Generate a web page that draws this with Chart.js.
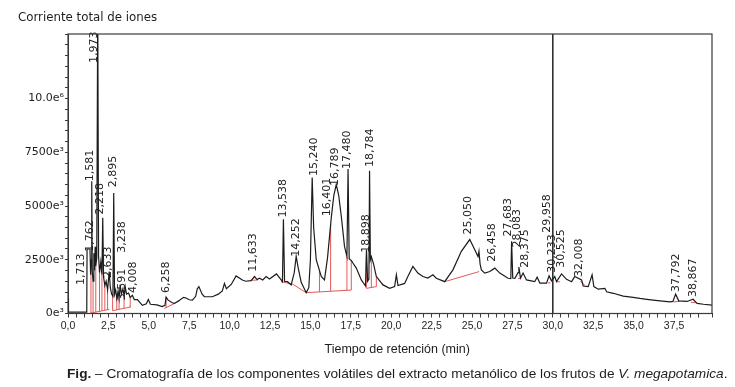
<!DOCTYPE html>
<html>
<head>
<meta charset="utf-8">
<script src="https://cdn.jsdelivr.net/npm/chart.js@4.4.0/dist/chart.umd.min.js"></script>
<style>
  html, body { margin: 0; padding: 0; background: #fff; }
  #wrap { position: relative; width: 735px; height: 387px; overflow: hidden; }
  #chart { position: absolute; left: 0; top: 0; }
  .txt { position: absolute; white-space: nowrap; color: #1e1e1e; }
  #ytitle { left: 18px; top: 10px; font: 11.8px "DejaVu Sans", Verdana, sans-serif; }
  #xtitle { left: 398px; top: 342px; font: 12.5px "Liberation Sans", Arial, sans-serif; transform-origin: 0 0; }
  #caption { left: 67px; top: 366px; font: 13px "Liberation Sans", Arial, sans-serif; transform-origin: 0 0; }
</style>
</head>
<body>
<div id="wrap">
  <canvas id="chart" width="735" height="387"></canvas>
  <div class="txt" id="ytitle">Corriente total de iones</div>
  <div class="txt" id="xtitle">Tiempo de retención (min)</div>
  <div class="txt" id="caption"><b>Fig.</b> – Cromatografía de los componentes volátiles del extracto metanólico de los frutos de <i>V. megapotamica</i>.</div>
</div>
<script>
/* ── data (time in min, intensity in e3 counts) ──────────── */

const traceTime = [
  0, 0.03, 1.16, 1.18, 1.36, 1.40, 1.44, 1.47, 1.50, 1.55, 1.60, 1.64, 1.68, 1.72, 1.78, 1.84, 1.89, 1.95,
  2.03, 2.10, 2.15, 2.20, 2.28, 2.36, 2.45, 2.55, 2.62, 2.70, 2.78, 2.83, 2.88, 2.95, 3.02, 3.10, 3.16,
  3.23, 3.30, 3.40, 3.47, 3.54, 3.62, 3.75, 3.85, 3.98, 4.10, 4.30, 4.60, 4.85, 4.97, 5.10, 5.50, 5.83,
  6.00, 6.07, 6.20, 6.45, 6.58, 6.90, 7.15, 7.30, 7.50, 7.70, 7.90, 8.00, 8.10, 8.30, 8.44, 8.93, 9.30,
  9.55, 9.68, 9.80, 10.10, 10.40, 10.79, 11.00, 11.33, 11.54, 11.70, 11.85, 12.05, 12.26, 12.47, 12.90,
  13.19, 13.27, 13.33, 13.40, 13.58, 13.81, 14.00, 14.12, 14.25, 14.43, 14.74, 14.90, 15.00, 15.11,
  15.20, 15.36, 15.67, 15.87, 16.06, 16.29, 16.45, 16.60, 16.75, 16.91, 17.11, 17.26, 17.33, 17.40,
  17.47, 17.55, 17.63, 17.84, 18.15, 18.41, 18.47, 18.54, 18.62, 18.66, 18.71, 18.77, 18.91, 19.08,
  19.49, 19.90, 20.21, 20.32, 20.42, 20.83, 21.03, 21.34, 21.65, 21.96, 22.27, 22.58, 22.79, 23.31,
  23.82, 24.34, 24.86, 25.17, 25.37, 25.43, 25.50, 25.58, 25.79, 26.10, 26.41, 26.72, 27.23, 27.40,
  27.45, 27.52, 27.65, 27.85, 27.90, 28.00, 28.16, 28.37, 28.88, 29.03, 29.20, 29.61, 29.77, 29.92,
  30.12, 30.23, 30.54, 30.85, 31.16, 31.36, 31.78, 31.88, 32.19, 32.43, 32.54, 32.81, 33.22, 33.33,
  33.74, 34.36, 34.97, 35.39, 35.81, 36.63, 37.25, 37.43, 37.60, 37.79, 38.31, 38.68, 38.93, 39.32, 39.85
];
const traceValue = [
  700, 60, 60, 3000, 3000, 1800, 2500, 6150, 2000, 1500, 2800, 2000, 3100, 2200, 2600, 14500, 2700, 1900,
  2400, 1800, 4450, 1700, 1300, 1500, 1100, 1950, 1200, 900, 800, 5600, 900, 1100, 700, 1050, 700,
  1350, 900, 1150, 800, 1250, 900, 950, 750, 850, 650, 650, 380, 450, 650, 430, 400, 320,
  380, 760, 620, 500, 470, 620, 750, 720, 640, 620, 800, 1150, 1250, 900, 780, 780, 900,
  1050, 1400, 1150, 1350, 1750, 1560, 1500, 1530, 1720, 1580, 1640, 1560, 1720, 1600, 1840,
  1560, 1480, 4380, 1500, 1480, 1330, 1900, 2660, 2100, 1450, 970, 1200, 2500, 6330,
  4000, 2500, 1720, 1560, 2600, 4450, 5500, 6000, 5500, 4530, 3120, 2650, 6720, 2550,
  2500, 2450, 2350, 2110, 1560, 1280, 2970, 1500, 1600, 6640, 2500, 2650, 2300, 1720,
  1330, 1170, 1250, 1800, 1300, 1400, 1720, 2190, 1880, 1720, 1650, 1800, 1640, 1480,
  2030, 2890, 3440, 2970, 2650, 2900, 2300, 2030, 1880, 1950, 2110, 1880, 1640, 1620,
  3360, 1650, 1640, 1900, 2160, 1650, 1880, 1560, 1480, 1690, 1410, 1410, 1750, 1520,
  1720, 1480, 1840, 1590, 1480, 1720, 1560, 1280, 1250, 1800, 1250, 1130, 1170, 1010,
  940, 810, 750, 700, 660, 590, 540, 560, 900, 590, 560, 660, 470, 430, 390
];

// integration baselines (red): polyline points [time, value] and drop-line times
const baselines = [
  { pts: [[1.42, 20], [2.55, 190]], drops: [1.42, 1.55, 1.72, 1.95, 2.10, 2.28, 2.45] },
  { pts: [[2.76, 130], [3.90, 310]], drops: [2.76, 3.02, 3.16, 3.47, 3.85] },
  { pts: [[5.96, 230], [6.89, 580]], drops: [6.07] },
  { pts: [[11.25, 1540], [11.75, 1560]], drops: [] },
  { pts: [[13.19, 1480], [13.91, 1360], [14.74, 970], [17.53, 1090]], drops: [15.56, 16.25, 17.26, 17.53] },
  { pts: [[18.46, 1170], [19.08, 1250]], drops: [18.46, 18.77, 19.08] },
  { pts: [[23.31, 1480], [25.44, 1950]], drops: [] },
  { pts: [[27.85, 1620], [28.05, 1640]], drops: [] },
  { pts: [[29.70, 1420], [29.85, 1430]], drops: [] },
  { pts: [[30.25, 1470], [30.45, 1480]], drops: [] },
  { pts: [[31.70, 1500], [32.00, 1300]], drops: [] },
  { pts: [[37.45, 540], [37.85, 560]], drops: [] },
  { pts: [[38.55, 520], [38.85, 500]], drops: [] },
];

// peak labels: text, x (min), y where the rotated text starts (e3)
const peakLabels  = ["1,713", "1,762", "1,581", "1,973", "2,218", "2,633", "2,895", "3,238", "3,591", "4,008",
                     "6,258", "11,633", "13,538", "14,252", "15,240", "16,401", "16,789", "17,480", "18,784", "18,898",
                     "25,050", "26,458", "27,683", "28,083", "28,375", "29,958", "30,233", "30,525", "32,008", "37,792", "38,867"];
const peakLabelX  = [0.82, 1.38, 1.38, 1.61, 2.00, 2.49, 2.80, 3.36, 3.36, 4.04,
                     6.05, 11.47, 13.33, 14.14, 15.22, 16.03, 16.55, 17.30, 18.69, 18.47,
                     24.73, 26.25, 27.24, 27.80, 28.30, 29.65, 29.97, 30.53, 31.64, 37.62, 38.70];
const peakLabelY  = [1330, 2870, 6150, 11650, 4600, 1650, 5870, 2830, 620, 950,
                     950, 1940, 4460, 2640, 6390, 4520, 5930, 6720, 6810, 2830,
                     3670, 2410, 3580, 3070, 2130, 3760, 1890, 2130, 1700, 1000, 770];

const cursorTime = 30.0;

const xTickValues = [0, 2.5, 5, 7.5, 10, 12.5, 15, 17.5, 20, 22.5, 25, 27.5, 30, 32.5, 35, 37.5];
const yTickValues = [0, 2500, 5000, 7500, 10000];
const yTickLabels = ["0e³", "2500e³", "5000e³", "7500e³", "10.0e⁶"];

/* ── helpers ─────────────────────────────────────────────── */

function interp(xs, ys, t) {
  for (let i = 1; i < xs.length; i++) {
    if (t <= xs[i]) {
      const f = (t - xs[i - 1]) / (xs[i] - xs[i - 1]);
      return ys[i - 1] + f * (ys[i] - ys[i - 1]);
    }
  }
  return ys[ys.length - 1];
}

const trace = traceTime.map((t, i) => ({ x: t, y: traceValue[i] }));

const redPts = [];
baselines.forEach(b => {
  b.pts.forEach(p => redPts.push({ x: p[0], y: p[1] }));
  redPts.push({ x: b.pts[b.pts.length - 1][0] + 0.001, y: null });
  const bx = b.pts.map(p => p[0]), by = b.pts.map(p => p[1]);
  b.drops.forEach(t => {
    redPts.push({ x: t, y: interp(bx, by, t) });
    redPts.push({ x: t, y: interp(traceTime, traceValue, t) });
    redPts.push({ x: t + 0.001, y: null });
  });
});

/* ── plugins ─────────────────────────────────────────────── */

const framePlugin = {
  id: "frame",
  afterDraw(chart) {
    const { ctx, chartArea: a } = chart;
    ctx.save();
    ctx.strokeStyle = "#3a3a3a";
    ctx.lineWidth = 1.2;
    ctx.strokeRect(a.left, a.top, a.right - a.left, a.bottom - a.top);
    ctx.restore();
  },
};

const labelPlugin = {
  id: "peakLabels",
  afterDatasetsDraw(chart) {
    const { ctx, scales: { x, y } } = chart;
    ctx.save();
    ctx.fillStyle = "#1e1e1e";
    ctx.font = '11px "DejaVu Sans", Verdana, sans-serif';
    ctx.textAlign = "left";
    ctx.textBaseline = "middle";
    peakLabels.forEach((txt, i) => {
      ctx.save();
      ctx.translate(x.getPixelForValue(peakLabelX[i]), y.getPixelForValue(peakLabelY[i]));
      ctx.rotate(-Math.PI / 2);
      ctx.fillText(txt, 0, 0);
      ctx.restore();
    });
    ctx.restore();
  },
};

/* ── chart ───────────────────────────────────────────────── */

new Chart(document.getElementById("chart"), {
  type: "line",
  data: {
    datasets: [
      {
        data: redPts,
        borderColor: "rgba(225,70,70,0.9)",
        borderWidth: 1,
        pointRadius: 0,
        spanGaps: false,
        order: 2,
      },
      {
        data: trace,
        borderColor: "#1c1c1c",
        borderWidth: 1.2,
        pointRadius: 0,
        tension: 0,
        order: 1,
      },
      {
        data: [{ x: cursorTime, y: 0 }, { x: cursorTime, y: 13000 }],
        borderColor: "#222",
        borderWidth: 1.5,
        pointRadius: 0,
        order: 0,
      },
    ],
  },
  options: {
    responsive: false,
    animation: false,
    layout: { padding: { top: 34, right: 23, left: 0, bottom: 0 } },
    plugins: { legend: { display: false }, tooltip: { enabled: false } },
    scales: {
      x: {
        type: "linear",
        min: 0,
        max: 39.85,
        afterFit(s) { s.height = 387 - 313.5; },
        grid: { drawOnChartArea: false, drawTicks: true, tickLength: 4, color: "#3a3a3a" },
        border: { display: true, color: "#3a3a3a", width: 1 },
        ticks: {
          stepSize: 0.5,
          maxTicksLimit: 200,
          autoSkip: false,
          maxRotation: 0,
          padding: 2,
          color: "#1e1e1e",
          font: { family: '"Liberation Sans", Arial, sans-serif', size: 10.5 },
          callback(v) {
            const r = Math.round(v * 10) / 10;
            return xTickValues.includes(r) ? r.toFixed(1).replace(".", ",") : "";
          },
        },
      },
      y: {
        type: "linear",
        min: 0,
        max: 13000,
        afterFit(s) { s.width = 68; },
        grid: { drawOnChartArea: false, drawTicks: true, tickLength: 3, color: "#3a3a3a" },
        border: { display: true, color: "#3a3a3a", width: 1 },
        ticks: {
          stepSize: 500,
          maxTicksLimit: 200,
          autoSkip: false,
          padding: 1,
          color: "#1e1e1e",
          font: { family: '"DejaVu Sans", Verdana, sans-serif', size: 11 },
          callback(v) {
            const i = yTickValues.findIndex(t => Math.abs(t - v) < 1);
            return i >= 0 ? yTickLabels[i] : "";
          },
        },
      },
    },
  },
  plugins: [framePlugin, labelPlugin],
});

/* ── text fitting ────────────────────────────────────────── */

const cap = document.getElementById("caption");
cap.style.transform = `scaleX(${660 / cap.offsetWidth})`;
const xt = document.getElementById("xtitle");
xt.style.left = (397 - xt.offsetWidth / 2) + "px";
</script>
</body>
</html>
